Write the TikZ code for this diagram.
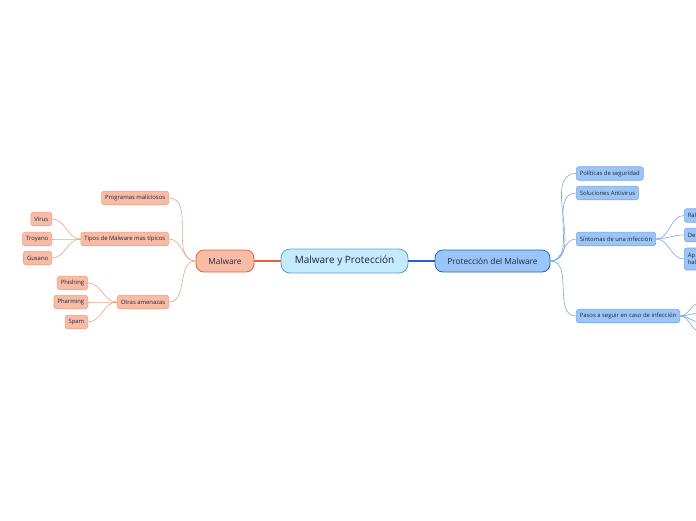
\documentclass[tikz,border=0pt]{standalone}
\usepackage{fontspec}
\setmainfont{Open Sans}
\usepackage{tikz}
\usetikzlibrary{positioning,calc}
\definecolor{RootFill}{RGB}{198,233,252}
\definecolor{RootLine}{RGB}{77,163,224}
\definecolor{MalFill}{RGB}{248,187,166}
\definecolor{MalLine}{RGB}{233,96,58}
\definecolor{MalSoft}{RGB}{245,160,132}
\definecolor{ProtFill}{RGB}{156,197,247}
\definecolor{ProtLine}{RGB}{37,99,201}
\definecolor{ProtSoft}{RGB}{122,168,236}
\definecolor{InkDark}{RGB}{25,40,60}
\tikzset{
  root/.style={draw=RootLine,fill=RootFill,line width=0.8pt,rounded corners=9pt,
    minimum width=127pt,minimum height=24pt,inner sep=2pt,
    font=\fontsize{10}{11}\selectfont,text=InkDark},
  topmal/.style={draw=MalLine,fill=MalFill,line width=0.8pt,rounded corners=8pt,
    minimum width=58pt,minimum height=22pt,inner sep=2pt,
    font=\fontsize{8.3}{9}\selectfont,text=InkDark},
  topprot/.style={draw=ProtLine,fill=ProtFill,line width=0.8pt,rounded corners=8pt,
    minimum width=115pt,minimum height=22pt,inner sep=2pt,
    font=\fontsize{8.3}{9}\selectfont,text=InkDark},
  lbox/.style={draw=MalSoft,fill=MalFill,line width=0.6pt,rounded corners=2.5pt,
    minimum height=13.5pt,inner xsep=3.5pt,inner ysep=1pt,
    font=\fontsize{5.9}{6.8}\selectfont,text=InkDark},
  rbox/.style={draw=ProtSoft,fill=ProtFill,line width=0.6pt,rounded corners=2.5pt,
    minimum height=13.5pt,inner xsep=3.5pt,inner ysep=1pt,
    font=\fontsize{5.9}{6.8}\selectfont,text=InkDark},
  lwire/.style={draw=MalSoft,line width=0.6pt},
  rwire/.style={draw=ProtSoft,line width=0.6pt},
}

\begin{document}
\begin{tikzpicture}[x=1pt,y=-1pt]
\useasboundingbox (0,0) rectangle (696,520);
\clip (0,0) rectangle (696,520);
% main topics
\node[root] (root) at (344.5,261) {Malware y Protección};
\node[topmal] (malware) at (225,261) {Malware};
\node[topprot] (proteccion) at (492.5,261) {Protección del Malware};
\draw[draw=MalLine,line width=1.2pt] (root.west) -- (malware.east);
\draw[draw=ProtLine,line width=1.2pt] (root.east) -- (proteccion.west);
% malware side
\node[lbox,anchor=east] (progmal) at (169,198) {Programas maliciosos};
\node[lbox,anchor=east] (tipos) at (169,239) {Tipos de Malware mas típicos};
\node[lbox,anchor=east] (otras) at (169,302) {Otras amenazas};
\node[lbox,anchor=east] (virus) at (52,219) {Virus};
\node[lbox,anchor=east] (troyano) at (52,239) {Troyano};
\node[lbox,anchor=east] (gusano) at (52,258) {Gusano};
\node[lbox,anchor=east] (phishing) at (88,283) {Phishing};
\node[lbox,anchor=east] (pharming) at (88,302) {Pharming};
\node[lbox,anchor=east] (spam) at (88,322) {Spam};
\foreach \kid in {progmal,tipos,otras}
  \draw[lwire] (malware.west) to[out=180,in=0] (\kid.east);
\foreach \kid in {virus,troyano,gusano}
  \draw[lwire] (tipos.west) to[out=180,in=0] (\kid.east);
\foreach \kid in {phishing,pharming,spam}
  \draw[lwire] (otras.west) to[out=180,in=0] (\kid.east);
% protection side
\node[rbox,anchor=west] (politicas) at (576,173.5) {Políticas de seguridad};
\node[rbox,anchor=west] (antivirus) at (576,193) {Soluciones Antivirus};
\node[rbox,anchor=west] (sintomas) at (576,239) {Síntomas de una infección};
\node[rbox,anchor=west] (pasos) at (576,316) {Pasos a seguir en caso de infección};
\node[rbox,anchor=west,text width=30pt,align=left] (ral) at (684,215.5) {Ral};
\node[rbox,anchor=west,text width=30pt,align=left] (de) at (684,235) {De};
\node[rbox,anchor=west,text width=30pt,align=left,minimum height=22pt] (ap) at (684,259) {Ap\\hal};
\coordinate (pa) at (700,303);
\coordinate (pb) at (700,313);
\coordinate (pc) at (700,322);
\coordinate (pd) at (700,331);
\foreach \kid in {politicas,antivirus,sintomas,pasos}
  \draw[rwire] (proteccion.east) to[out=0,in=180] (\kid.west);
\foreach \kid in {ral,de,ap}
  \draw[rwire] (sintomas.east) to[out=0,in=180] (\kid.west);
\foreach \kid in {pa,pb,pc,pd}
  \draw[rwire] (pasos.east) to[out=0,in=180] (\kid);
\end{tikzpicture}
\end{document}
